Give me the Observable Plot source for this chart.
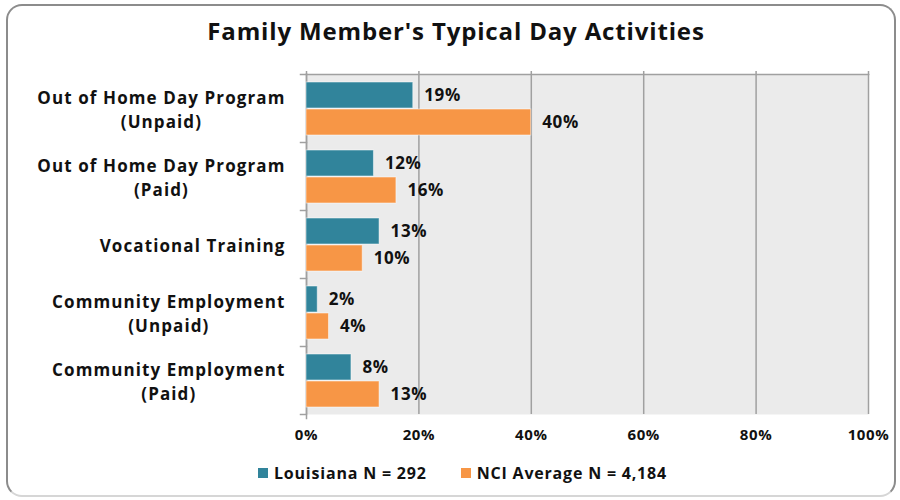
<!DOCTYPE html>
<html><head><meta charset="utf-8">
<script src="https://cdn.jsdelivr.net/npm/d3@7"></script>
<script src="https://cdn.jsdelivr.net/npm/@observablehq/plot@0.6"></script>
<style>
body{margin:0;background:#fff;font-family:"Open Sans",sans-serif;}
#wrap{position:relative;width:900px;height:500px;overflow:hidden;}
#frame{position:absolute;left:6px;top:4px;width:890px;height:493px;border:2px solid #8c8c8c;border-bottom-color:#d6d6d6;border-radius:16px;box-sizing:border-box;}
#title{position:absolute;top:14px;left:6px;width:900px;text-align:center;font-weight:700;font-size:24px;letter-spacing:0.85px;color:#111;}
#chart{position:absolute;top:60px;left:0;}
#legend{position:absolute;top:462px;left:258px;display:flex;align-items:center;font-weight:700;font-size:16px;letter-spacing:0.8px;color:#111;}
.sw{display:inline-block;width:10px;height:10px;margin-right:6px;}
.item{display:flex;align-items:center;margin-right:34px;}
g[aria-label="fy-axis tick label"] text{letter-spacing:1.1px;}
g[aria-label="x-axis tick label"] text{letter-spacing:0.6px;}
g[aria-label="text"] text{letter-spacing:0.6px;}
</style></head>
<body>
<div id="wrap">
<div id="frame"></div>
<div id="title">Family Member's Typical Day Activities</div>
<div id="chart"></div>
<div id="legend"></div>
</div>
<script>
const categories = ["Out of Home Day Program\n(Unpaid)", "Out of Home Day Program\n(Paid)", "Vocational Training", "Community Employment\n(Unpaid)", "Community Employment\n(Paid)"];
const series = ["Louisiana N = 292", "NCI Average N = 4,184"];
const louisiana = [19, 12, 13, 2, 8];
const nci = [40, 16, 10, 4, 13];
const colors = ["#31849b", "#f79646"];
const xTicks = [0, 20, 40, 60, 80, 100];

const data = [];
categories.forEach((c, i) => {
  data.push({cat: c, s: series[0], v: louisiana[i]});
  data.push({cat: c, s: series[1], v: nci[i]});
});

const font = "Open Sans, sans-serif";
const chart = Plot.plot({
  width: 900, height: 400,
  marginLeft: 306, marginRight: 32, marginTop: 14, marginBottom: 46,
  style: {fontFamily: font, fontWeight: 700, color: "#111", background: "transparent"},
  x: {domain: [0, 100], ticks: xTicks},
  y: {domain: series, paddingInner: 0.05, paddingOuter: 0.24, axis: null},
  fy: {domain: categories, padding: 0},
  color: {domain: series, range: colors},
  marks: [
    Plot.frame({fill: "#ebebeb", stroke: "none", facet: "super"}),
    Plot.gridX(xTicks, {stroke: "#a0a0a0", strokeOpacity: 1, strokeWidth: 1.5}),
    Plot.frame({anchor: "top", stroke: "#a0a0a0", strokeWidth: 1.5, insetLeft: -6, facet: "super"}),
    Plot.frame({anchor: "left", stroke: "#a0a0a0", strokeWidth: 1.5, insetTop: -0.5, insetBottom: -4, facet: "super"}),
    Plot.frame({anchor: "bottom", stroke: "#a0a0a0", strokeWidth: 1.5, insetLeft: -6, insetRight: 562}),
    Plot.axisX(xTicks, {anchor: "top", tickSize: 4, tickFormat: () => "", stroke: "#a0a0a0", strokeWidth: 1.5, label: null}),
    Plot.axisX(xTicks, {anchor: "bottom", tickSize: 0, tickPadding: 15, tickFormat: d => d + "%", fontSize: 15, fontWeight: 700, label: null}),
    Plot.axisFy({anchor: "left", tickSize: 0, tickPadding: 21, fontSize: 17, fontWeight: 700, lineHeight: 1.4, label: null}),
    Plot.barX(data, {fy: "cat", y: "s", x: "v", fill: "s", stroke: "#ffffff", strokeOpacity: 0.5, strokeWidth: 1}),
    Plot.text(data, {fy: "cat", y: "s", x: "v", text: d => d.v + "%", dx: 11, textAnchor: "start", fontSize: 17, fontWeight: 700, fill: "#111"})
  ]
});
document.getElementById("chart").appendChild(chart);

// center multi-line category labels relative to their longest line
chart.querySelectorAll('g[aria-label="fy-axis tick label"] text').forEach(t => {
  const tsp = t.querySelectorAll("tspan");
  if (tsp.length > 1) {
    let w = 0;
    tsp.forEach(s => { w = Math.max(w, s.getComputedTextLength()); });
    t.setAttribute("text-anchor", "middle");
    tsp.forEach(s => s.setAttribute("x", -w / 2));
  }
});

const legend = document.getElementById("legend");
series.forEach((s, i) => {
  const it = document.createElement("div");
  it.className = "item";
  it.innerHTML = `<span class="sw" style="background:${colors[i]}"></span>${s}`;
  legend.appendChild(it);
});
</script>
</body></html>
